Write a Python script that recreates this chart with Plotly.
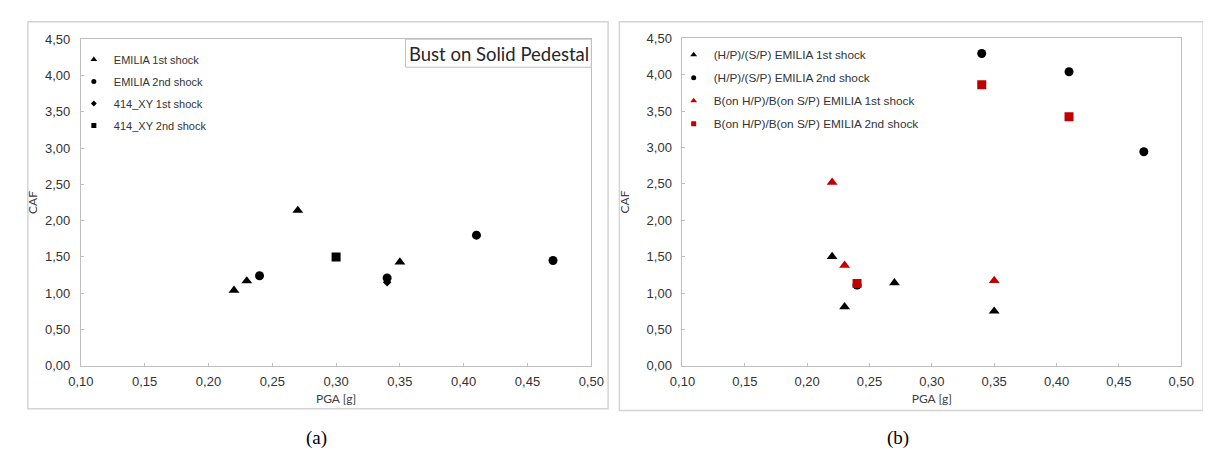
import plotly.graph_objects as go

W, H = 1211, 457

# ---------------- data (a) ----------------
a_emilia1_x = [0.22, 0.23, 0.27, 0.35]
a_emilia1_y = [1.04, 1.17, 2.14, 1.43]
a_emilia2_x = [0.24, 0.34, 0.41, 0.47]
a_emilia2_y = [1.24, 1.21, 1.80, 1.45]
a_xy1_x = [0.34]
a_xy1_y = [1.15]
a_xy2_x = [0.30]
a_xy2_y = [1.50]
a_names = ["EMILIA 1st shock", "EMILIA 2nd shock", "414_XY 1st shock", "414_XY 2nd shock"]

# ---------------- data (b) ----------------
b_hp1_x = [0.22, 0.23, 0.27, 0.35]
b_hp1_y = [1.50, 0.81, 1.14, 0.75]
b_hp2_x = [0.24, 0.34, 0.41, 0.47]
b_hp2_y = [1.11, 4.29, 4.04, 2.94]
b_b1_x = [0.22, 0.23, 0.35]
b_b1_y = [2.52, 1.38, 1.17]
b_b2_x = [0.24, 0.34, 0.41]
b_b2_y = [1.13, 3.86, 3.42]
b_names = ["(H/P)/(S/P) EMILIA 1st shock", "(H/P)/(S/P) EMILIA 2nd shock",
           "B(on H/P)/B(on S/P) EMILIA 1st shock", "B(on H/P)/B(on S/P) EMILIA 2nd shock"]

x_range = [0.10, 0.50]
y_range = [0.0, 4.5]

BLACK = "#000000"
RED = "#C00000"

def px(x):
    return x / W

def py(y):
    return 1 - y / H

fig = go.Figure()

# data traces (a)
a_series = [
    (a_emilia1_x, a_emilia1_y, "triangle-up", 9.5, BLACK),
    (a_emilia2_x, a_emilia2_y, "circle", 9, BLACK),
    (a_xy1_x, a_xy1_y, "diamond", 6.5, BLACK),
    (a_xy2_x, a_xy2_y, "square", 9, BLACK),
]
a_leg_sizes = [6, 5, 4.5, 5]
for (xs, ys, sym, sz, col), name, lsz in zip(a_series, a_names, a_leg_sizes):
    fig.add_trace(go.Scatter(x=xs, y=ys, mode="markers", name=name, showlegend=False,
                             marker=dict(symbol=sym, size=sz, color=col),
                             xaxis="x", yaxis="y"))
    fig.add_trace(go.Scatter(x=[None], y=[None], mode="markers", name=name, legendgroup=name,
                             marker=dict(symbol=sym, size=lsz, color=col),
                             xaxis="x", yaxis="y", legend="legend"))

# data traces (b)
b_series = [
    (b_hp1_x, b_hp1_y, "triangle-up", 9.5, BLACK),
    (b_hp2_x, b_hp2_y, "circle", 9, BLACK),
    (b_b1_x, b_b1_y, "triangle-up", 9.5, RED),
    (b_b2_x, b_b2_y, "square", 9, RED),
]
b_leg_sizes = [6, 5, 6, 5]
for (xs, ys, sym, sz, col), name, lsz in zip(b_series, b_names, b_leg_sizes):
    fig.add_trace(go.Scatter(x=xs, y=ys, mode="markers", name=name, showlegend=False,
                             marker=dict(symbol=sym, size=sz, color=col),
                             xaxis="x2", yaxis="y2"))
    fig.add_trace(go.Scatter(x=[None], y=[None], mode="markers", name=name, legendgroup=name,
                             marker=dict(symbol=sym, size=lsz, color=col),
                             xaxis="x2", yaxis="y2", legend="legend2"))

TICKFONT = dict(family="Liberation Sans, Arial, sans-serif", size=13, color="#333333")
TITLEFONT = dict(family="Lato, Carlito, sans-serif", size=12, color="#404040")
AXCOL = "#bfbfbf"

def xaxis(domain, anchor):
    return dict(domain=domain, anchor=anchor, range=x_range, dtick=0.05, tick0=0.10,
                tickformat=".2f", showgrid=False, zeroline=False,
                showline=True, mirror=True, linecolor=AXCOL, linewidth=1,
                ticks="inside", ticklen=3, tickcolor=AXCOL,
                tickfont=TICKFONT, ticklabelstandoff=4,
                title=dict(text="PGA [g]", font=TITLEFONT, standoff=6))

def yaxis(domain, anchor, title_standoff):
    return dict(domain=domain, anchor=anchor, range=y_range, dtick=0.5, tick0=0,
                tickformat=".2f", showgrid=False, zeroline=False,
                showline=True, mirror=True, linecolor=AXCOL, linewidth=1,
                ticks="inside", ticklen=3, tickcolor=AXCOL,
                tickfont=TICKFONT, ticklabelstandoff=7,
                title=dict(text="CAF", font=TITLEFONT, standoff=title_standoff))

LEGFONT_A = dict(family="Liberation Sans, Arial, sans-serif", size=11, color="#333333")
LEGFONT_B = dict(family="Liberation Sans, Arial, sans-serif", size=11.8, color="#333333")

fig.update_layout(
    width=W, height=H, autosize=False,
    margin=dict(l=0, r=0, t=0, b=0),
    paper_bgcolor="white", plot_bgcolor="white",
    separators=",.",
    xaxis=xaxis([px(61.2), px(582.8)], "y"),
    yaxis=yaxis([py(362.7), py(25)], "x", 4),
    xaxis2=xaxis([px(676), px(1185.7)], "y2"),
    yaxis2=yaxis([py(362.7), py(24)], "x2", 14),
    legend=dict(x=px(54), y=py(31), xanchor="left", yanchor="top",
                bgcolor="rgba(0,0,0,0)", font=LEGFONT_A, traceorder="grouped",
                tracegroupgap=3, borderwidth=0),
    legend2=dict(x=px(667), y=py(26), xanchor="left", yanchor="top",
                 bgcolor="rgba(0,0,0,0)", font=LEGFONT_B, traceorder="grouped",
                 tracegroupgap=4, borderwidth=0),
    shapes=[
        dict(type="rect", xref="paper", yref="paper", x0=px(7), x1=px(600), y0=py(407), y1=py(7),
             line=dict(color="#d4d4d4", width=1.5), layer="below"),
        dict(type="rect", xref="paper", yref="paper", x0=px(611.5), x1=px(1208), y0=py(409), y1=py(7),
             line=dict(color="#d4d4d4", width=1.5), layer="below"),
        dict(type="rect", xref="paper", yref="paper", x0=px(393), x1=px(582.8), y0=py(54), y1=py(25),
             line=dict(color=AXCOL, width=1), fillcolor="white"),
    ],
    annotations=[
        dict(text="Bust on Solid Pedestal", xref="paper", yref="paper", x=px(488), y=py(40),
             xanchor="center", yanchor="middle", showarrow=False,
             font=dict(family="Lato, Carlito, sans-serif", size=18.5, color="#262626")),
        dict(text="(a)", xref="paper", yref="paper", x=px(302), y=py(437),
             xanchor="center", yanchor="middle", showarrow=False,
             font=dict(family="Liberation Serif, Times New Roman, serif", size=19, color="#000000")),
        dict(text="(b)", xref="paper", yref="paper", x=px(896), y=py(437),
             xanchor="center", yanchor="middle", showarrow=False,
             font=dict(family="Liberation Serif, Times New Roman, serif", size=19, color="#000000")),
    ],
)

fig.write_html("out.html")
